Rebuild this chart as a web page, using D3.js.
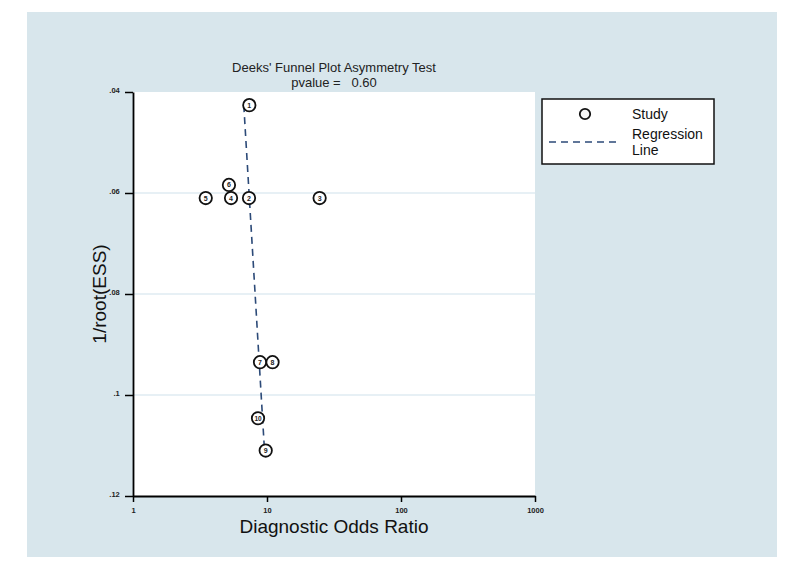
<!DOCTYPE html>
<html>
<head>
<meta charset="utf-8">
<script src="https://cdn.jsdelivr.net/npm/d3@7"></script>
<style>
  body { margin: 0; background: #fff; }
  svg { display: block; font-family: "Liberation Sans", Arial, sans-serif; }
</style>
</head>
<body>
<div id="chart"></div>
<script>
// study labels, diagnostic odds ratio, 1/sqrt(ESS)
const studyIds = [1, 2, 3, 4, 5, 6, 7, 8, 9, 10];
const dor = [7.38, 7.34, 24.7, 5.39, 3.49, 5.2, 8.87, 11.0, 9.78, 8.57];
const invRootEss = [0.0426, 0.0610, 0.0610, 0.0610, 0.0610, 0.0584, 0.0935, 0.0935, 0.1110, 0.1046];

// regression line end points
const regX = [6.71, 9.58];
const regY = [0.0426, 0.1110];

const xTicks = [1, 10, 100, 1000];
const yTicks = [0.04, 0.06, 0.08, 0.1, 0.12];
const gridTicks = [0.06, 0.08, 0.1];

const width = 800, height = 568;
const plotL = 133, plotR = 535, plotT = 92, plotB = 496;

const svg = d3.select('#chart')
              .append('svg')
              .attr('width', width)
              .attr('height', height);

// outer light blue panel
svg.append('rect')
   .attr('x', 27).attr('y', 12)
   .attr('width', 750).attr('height', 545)
   .attr('fill', '#d8e6ec');

// plot region
svg.append('rect')
   .attr('x', plotL).attr('y', plotT)
   .attr('width', plotR - plotL).attr('height', plotB - plotT)
   .attr('fill', '#fff');

const xScale = d3.scaleLog()
                 .domain([1, 1000])
                 .range([plotL, plotR]);

const yScale = d3.scaleLinear()
                 .domain([0.04, 0.12])
                 .range([plotT, plotB]);

// gridlines
svg.selectAll('.grid')
   .data(gridTicks)
   .enter()
   .append('line')
   .attr('x1', plotL).attr('x2', plotR)
   .attr('y1', d => yScale(d)).attr('y2', d => yScale(d))
   .attr('stroke', '#cfe2ec')
   .attr('stroke-width', 1.2);

const yFmt = d => d3.format('.2~f')(d).replace(/^0/, '');

const xAxis = d3.axisBottom(xScale)
                .tickValues(xTicks)
                .tickFormat(d3.format('d'))
                .tickSize(6)
                .tickSizeOuter(0);

const yAxis = d3.axisLeft(yScale)
                .tickValues(yTicks)
                .tickFormat(yFmt)
                .tickSize(8)
                .tickSizeOuter(0);

const gx = svg.append('g')
   .attr('transform', `translate(0, ${plotB})`)
   .call(xAxis);

const gy = svg.append('g')
   .attr('transform', `translate(${plotL}, 0)`)
   .call(yAxis);

[gx, gy].forEach(g => {
  g.select('.domain').attr('stroke', '#000').attr('stroke-width', 1.8);
  g.selectAll('.tick line').attr('stroke', '#000').attr('stroke-width', 1.5);
  g.selectAll('.tick text')
   .attr('font-size', 7.5)
   .attr('font-weight', 'bold')
   .attr('fill', '#222')
   .attr('font-family', '"Liberation Sans", Arial, sans-serif');
});
gx.selectAll('.tick text').attr('dy', '1.1em');
gy.selectAll('.tick text').attr('dx', '-0.3em').attr('dy', '0.1em');

// regression line
const regPts = regX.map((x, i) => [x, regY[i]]);
svg.append('path')
   .datum(regPts)
   .attr('d', d3.line().x(d => xScale(d[0])).y(d => yScale(d[1])))
   .attr('fill', 'none')
   .attr('stroke', '#2c4a78')
   .attr('stroke-width', 1.6)
   .attr('stroke-dasharray', '7,5');

// study points
const pts = svg.selectAll('.study')
   .data(studyIds)
   .enter()
   .append('g')
   .attr('transform', (d, i) => `translate(${xScale(dor[i])}, ${yScale(invRootEss[i])})`);

pts.append('circle')
   .attr('r', 6.2)
   .attr('fill', '#fff')
   .attr('stroke', '#111')
   .attr('stroke-width', 1.8);

pts.append('text')
   .attr('text-anchor', 'middle')
   .attr('dy', '0.35em')
   .attr('font-size', d => d > 9 ? 6.5 : 7)
   .attr('font-weight', 'bold')
   .attr('fill', '#222')
   .text(d => d);

// title
const cx = (plotL + plotR) / 2;
svg.append('text')
   .attr('x', cx).attr('y', 72)
   .attr('text-anchor', 'middle')
   .attr('font-size', 13)
   .attr('fill', '#222')
   .text("Deeks' Funnel Plot Asymmetry Test");
svg.append('text')
   .attr('x', cx).attr('y', 87)
   .attr('text-anchor', 'middle')
   .attr('font-size', 13)
   .attr('fill', '#222')
   .attr('xml:space', 'preserve')
   .text('pvalue =   0.60');

// axis titles
svg.append('text')
   .attr('x', cx).attr('y', 533)
   .attr('text-anchor', 'middle')
   .attr('font-size', 19)
   .attr('fill', '#111')
   .text('Diagnostic Odds Ratio');

svg.append('text')
   .attr('transform', `translate(106, ${(plotT + plotB) / 2}) rotate(-90)`)
   .attr('text-anchor', 'middle')
   .attr('font-size', 19)
   .attr('fill', '#111')
   .text('1/root(ESS)');

// legend
const lg = svg.append('g');
lg.append('rect')
  .attr('x', 542).attr('y', 99)
  .attr('width', 172).attr('height', 65)
  .attr('fill', '#fff')
  .attr('stroke', '#111')
  .attr('stroke-width', 1.5);
lg.append('circle')
  .attr('cx', 585).attr('cy', 114)
  .attr('r', 5.2)
  .attr('fill', '#f4f4f4')
  .attr('stroke', '#111')
  .attr('stroke-width', 1.8);
lg.append('line')
  .attr('x1', 549).attr('x2', 621)
  .attr('y1', 142).attr('y2', 142)
  .attr('stroke', '#2c4a78')
  .attr('stroke-width', 1.6)
  .attr('stroke-dasharray', '7,5');
lg.append('text').attr('x', 632).attr('y', 119).attr('font-size', 14).attr('fill', '#111').text('Study');
lg.append('text').attr('x', 632).attr('y', 139).attr('font-size', 14).attr('fill', '#111').text('Regression');
lg.append('text').attr('x', 632).attr('y', 155).attr('font-size', 14).attr('fill', '#111').text('Line');
</script>
</body>
</html>
